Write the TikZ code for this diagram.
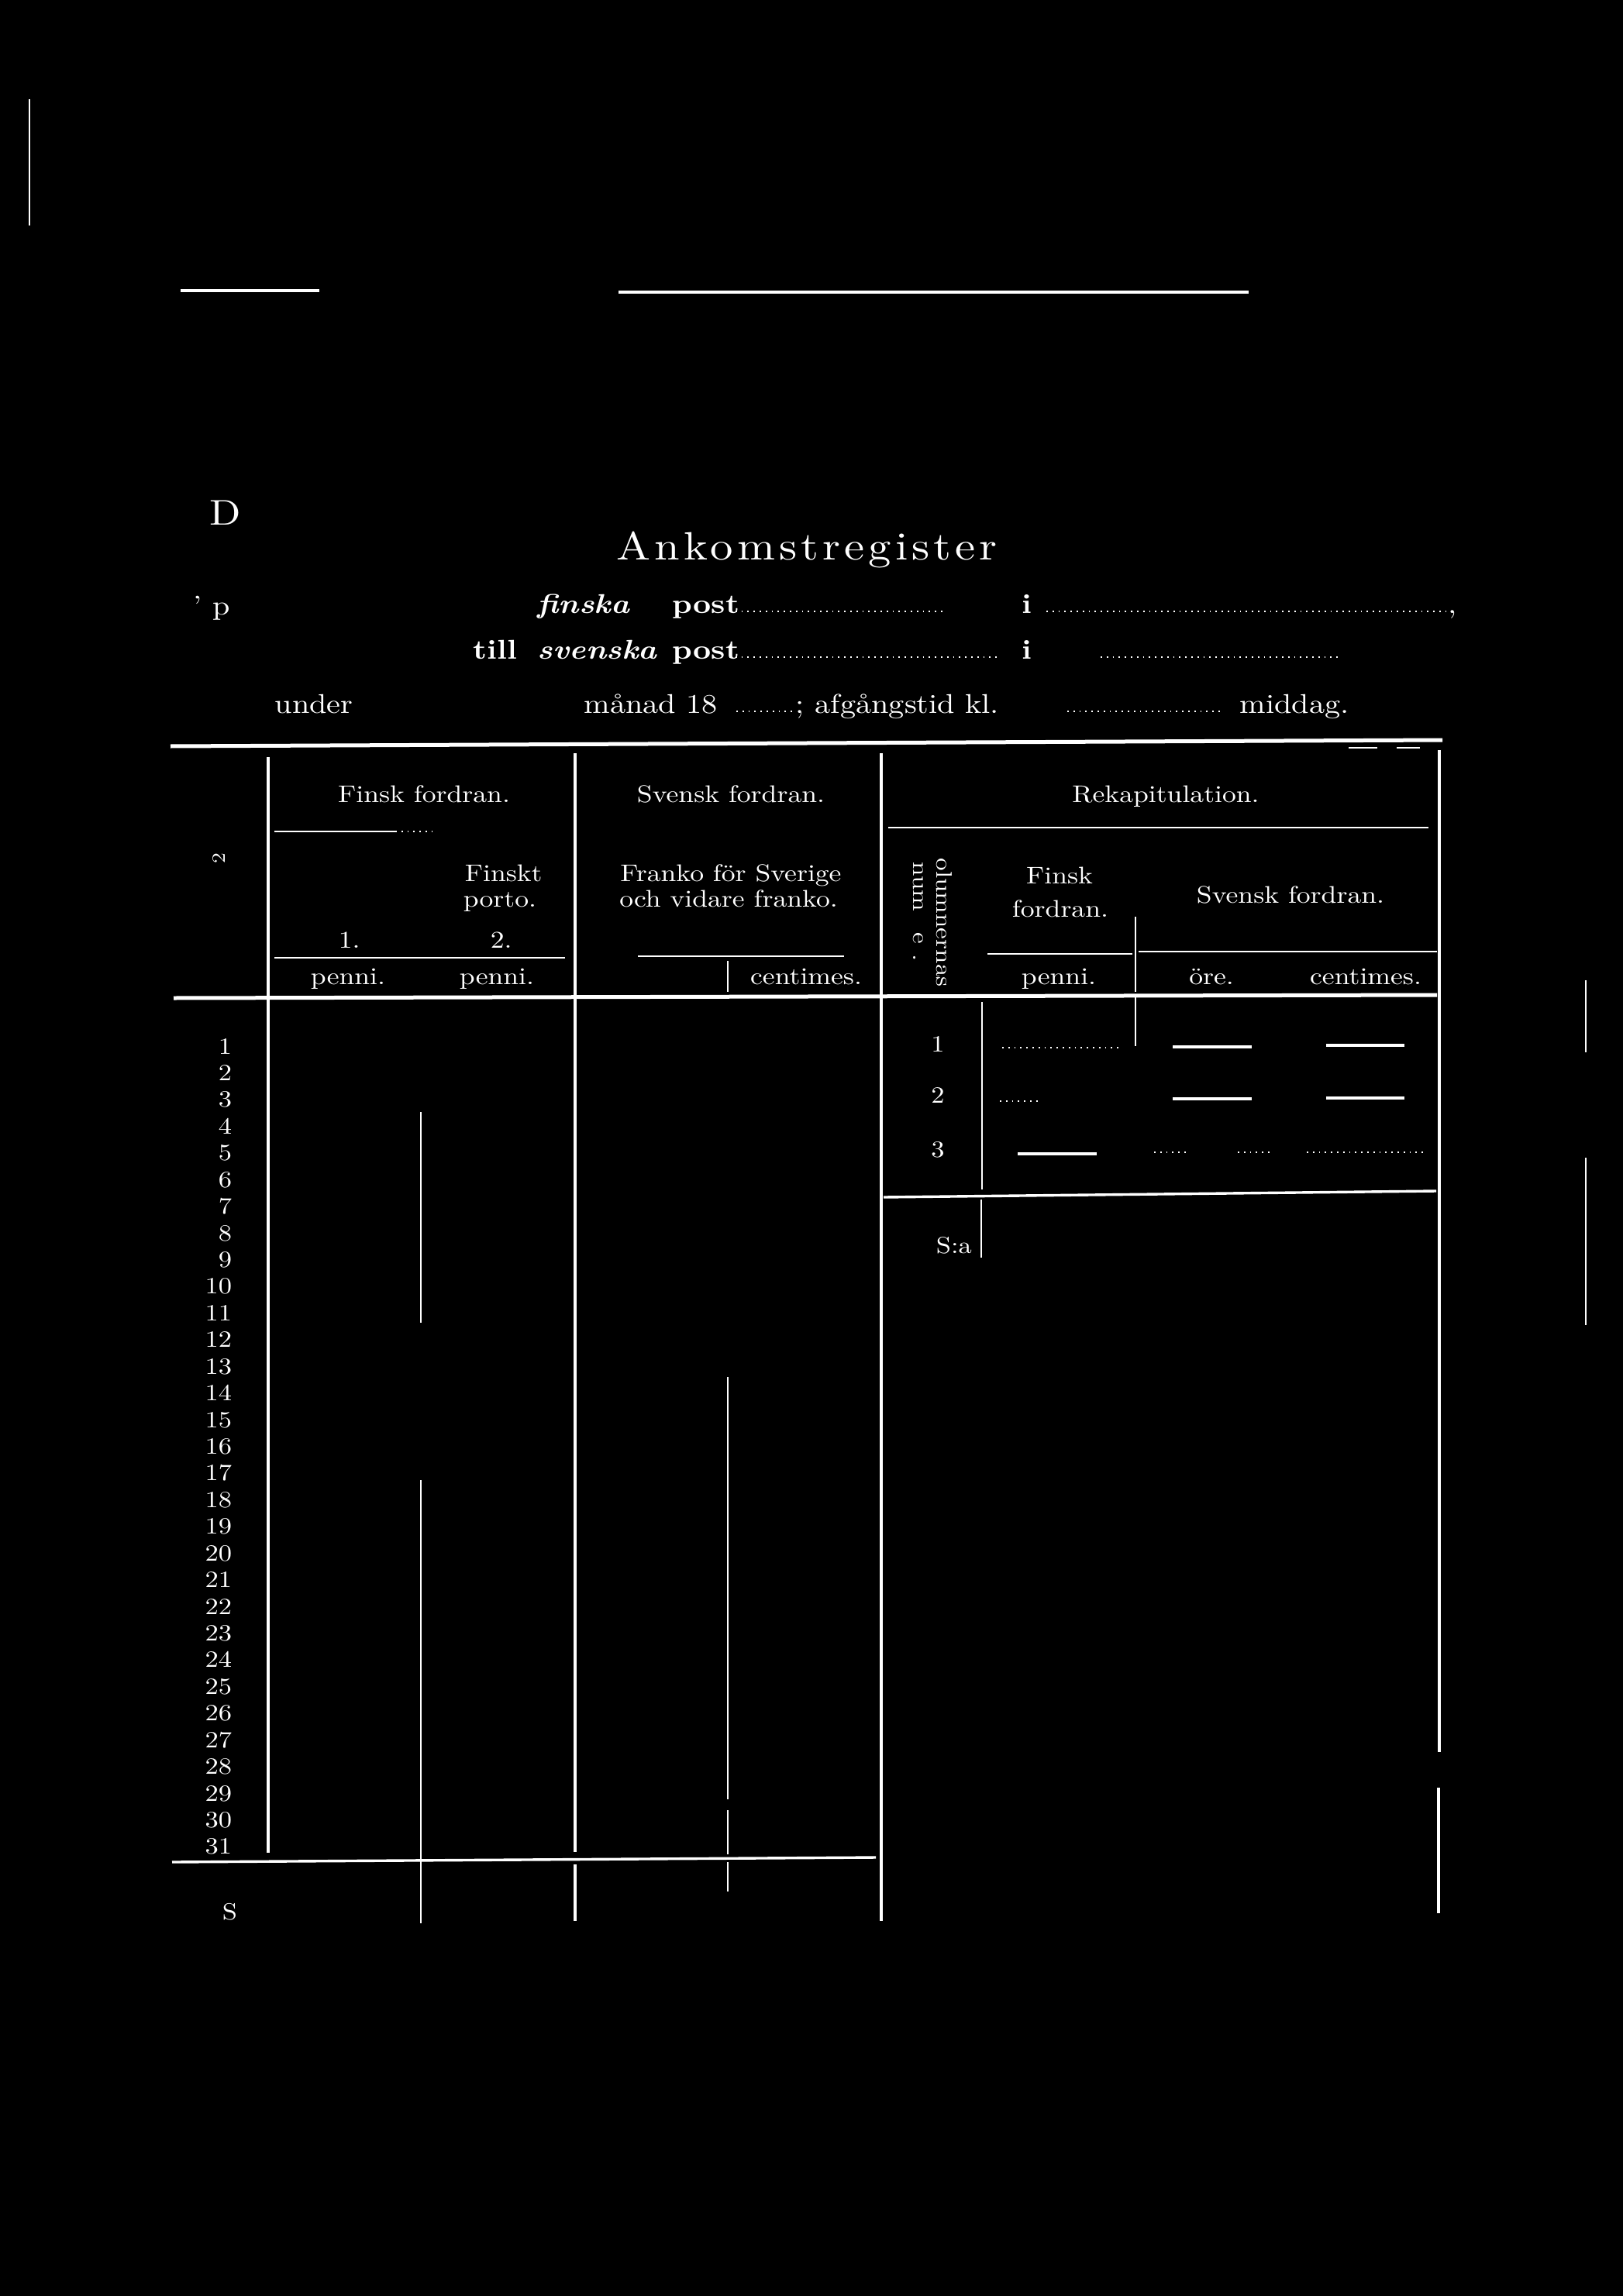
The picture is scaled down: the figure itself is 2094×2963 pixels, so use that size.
\documentclass[tikz,border=0pt]{standalone}
\usepackage{fontspec}
\setmainfont{lmroman10-regular.otf}[ItalicFont=lmroman10-italic.otf,BoldFont=lmroman10-bold.otf,BoldItalicFont=lmroman10-bolditalic.otf,FakeStretch=1.15]
\newfontfamily\titlefont{lmroman10-regular.otf}[FakeStretch=1.15,LetterSpace=10]
\newcommand\fsz[1]{\fontsize{#1}{#1}\selectfont}
\begin{document}
\begin{tikzpicture}[x=0.25pt,y=-0.25pt,
  lnA/.style={draw=white,line width=0.45pt},
  lnB/.style={draw=white,line width=0.6pt},
  lnC/.style={draw=white,line width=0.85pt},
  lnD/.style={draw=white,line width=1.25pt},
  dotrule/.style={draw=white,line width=0.55pt,dash pattern=on 0.45pt off 1.5pt},
  txt/.style={text=white,inner sep=0pt,font=\fsz{8.75pt}},
  hdr/.style={text=white,inner sep=0pt,font=\fsz{7.75pt}},
  num/.style={text=white,inner sep=0pt,font=\fsz{7.5pt}}]
\fill[black] (0,0) rectangle (2094,2963);
\useasboundingbox (0,0) rectangle (2094,2963);

% ---------- top marks ----------
\draw[lnA] (38,128) -- (38,291);
\draw[lnC] (233,375) -- (412,375);
\draw[lnC] (798,377) -- (1611,377);

% ---------- title block ----------
\node[txt,anchor=base west,font=\fsz{11.5pt}] (tD) at (270,678) {D};
\node[txt,anchor=base west,font=\titlefont\fsz{12.75pt}] (title) at (795,723) {Ankomstregister};

\node[txt,anchor=base west] (tp) at (249,793) {' p};
\node[txt,anchor=base west,font=\fsz{8.75pt}\bfseries\itshape] (fin) at (693,791) {finska};
\node[txt,anchor=base west,font=\fsz{8.75pt}\bfseries] (post1) at (867,791) {post};
\node[txt,anchor=base,font=\fsz{8.75pt}\bfseries] (i1) at (1325,791) {i};
\node[txt,anchor=base west] (comma) at (1868,791) {,};
\draw[dotrule] (941,789) -- (1219,789);
\draw[dotrule] (1350,789) -- (1865,789);

\node[txt,anchor=base west,font=\fsz{8.75pt}\bfseries] (till) at (610,850) {till};
\node[txt,anchor=base west,font=\fsz{8.75pt}\bfseries\itshape] (sve) at (693,850) {svenska};
\node[txt,anchor=base west,font=\fsz{8.75pt}\bfseries] (post2) at (867,850) {post};
\node[txt,anchor=base,font=\fsz{8.75pt}\bfseries] (i2) at (1325,850) {i};
\draw[dotrule] (941,848) -- (1290,848);
\draw[dotrule] (1420,848) -- (1729,848);

\node[txt,anchor=base west] (under) at (354,920) {under};
\node[txt,anchor=base west] (manad) at (753,920) {månad 18};
\draw[dotrule] (950,918) -- (1022,918);
\node[txt,anchor=base west] (semi) at (1026,920) {;};
\node[txt,anchor=base west] (afg) at (1051,920) {afgångstid kl.};
\draw[dotrule] (1377,918) -- (1577,918);
\node[txt,anchor=base west] (midd) at (1599,920) {middag.};

% ---------- table frame ----------
\draw[lnD] (220,963) -- (1861,955);
\draw[lnA] (1740,965) -- (1777,965);
\draw[lnA] (1802,965) -- (1832,965);

\draw[lnC] (346,977) -- (346,2391);
\draw[lnC] (742,972) -- (742,2390);
\draw[lnC] (742,2406) -- (742,2479);
\draw[lnC] (1137,972) -- (1137,2479);
\draw[lnC] (1857,968) -- (1857,2261);
\draw[lnC] (1856,2307) -- (1856,2469);
\draw[lnA] (543,1435) -- (543,1707);
\draw[lnA] (543,1910) -- (543,2482);
\draw[lnA] (939,1240) -- (939,1280);
\draw[lnA] (939,1777) -- (939,2322);
\draw[lnA] (939,2336) -- (939,2393);
\draw[lnA] (939,2403) -- (939,2441);
\draw[lnA] (1267,1293) -- (1267,1535);
\draw[lnA] (1266,1548) -- (1266,1623);
\draw[lnA] (1465,1183) -- (1465,1280);
\draw[lnA] (1465,1287) -- (1465,1350);
\draw[lnB] (2046,1265) -- (2046,1358);
\draw[lnB] (2046,1494) -- (2046,1710);

% header rules
\draw[lnA] (354,1073) -- (510,1073);
\draw[dotrule] (510,1073) -- (558,1073);
\draw[lnB] (1146,1068) -- (1843,1068);
\draw[lnB] (354,1236) -- (729,1236);
\draw[lnB] (823,1234) -- (1089,1234);
\draw[lnA] (1274,1231) -- (1461,1231);
\draw[lnB] (1469,1228) -- (1854,1228);
\draw[lnD] (224,1288) -- (1854,1284);

% ---------- header texts ----------
\node[hdr,anchor=base] (hFinsk) at (547,1035) {Finsk fordran.};
\node[hdr,anchor=base] (hSvensk) at (943,1035) {Svensk fordran.};
\node[hdr,anchor=base] (hRekap) at (1504,1035) {Rekapitulation.};
\node[hdr,anchor=base west] (hFinskt) at (599,1137) {Finskt};
\node[hdr,anchor=base west] (hPorto) at (597,1170) {porto.};
\node[hdr,anchor=base west] (hOne) at (436,1223) {1.};
\node[hdr,anchor=base west] (hTwo) at (632,1223) {2.};
\node[hdr,anchor=base] (hPen1) at (449,1270) {penni.};
\node[hdr,anchor=base] (hPen2) at (641,1270) {penni.};
\node[hdr,anchor=base] (hFranko) at (943,1137) {Franko för Sverige};
\node[hdr,anchor=base] (hOch) at (940,1170) {och vidare franko.};
\node[hdr,anchor=base] (hCent1) at (1040,1270) {centimes.};
\node[hdr,anchor=base west,rotate=-90,font=\fsz{7.2pt}] (hKol) at (1208,1107) {olumnernas};
\node[hdr,anchor=base west,rotate=-90,font=\fsz{7.2pt}] (hNum) at (1178,1112) {num\hphantom{m}e\hphantom{r}.};
\node[hdr,anchor=base] (hRF1) at (1367,1140) {Finsk};
\node[hdr,anchor=base] (hRF2) at (1368,1183) {fordran.};
\node[hdr,anchor=base] (hRS) at (1665,1165) {Svensk fordran.};
\node[hdr,anchor=base] (hPen3) at (1366,1270) {penni.};
\node[hdr,anchor=base] (hOre) at (1563,1270) {öre.};
\node[hdr,anchor=base] (hCent2) at (1762,1270) {centimes.};
\node[num,anchor=center,rotate=90,font=\fsz{6pt}] (hMark) at (283,1108) {2};

% ---------- day numbers ----------
\foreach \n in {1,...,31} {
  \node[num,anchor=base east] (d\n) at (300,{1360+(\n-1)*34.43}) {\n};
}
\draw[lnC] (222,2403) -- (1130,2397);
\node[num,anchor=base west] (sumS) at (286,2477) {S};

% ---------- recapitulation rows ----------
\node[num,anchor=base] (r1) at (1210,1357) {1};
\node[num,anchor=base] (r2) at (1210,1423) {2};
\node[num,anchor=base] (r3) at (1210,1493) {3};
\draw[dotrule] (1293,1352) -- (1443,1352);
\draw[lnC] (1513,1351) -- (1615,1351);
\draw[lnC] (1711,1349) -- (1812,1349);
\draw[dotrule] (1290,1421) -- (1340,1421);
\draw[lnC] (1513,1418) -- (1615,1418);
\draw[lnC] (1711,1417) -- (1812,1417);
\draw[lnC] (1313,1489) -- (1415,1489);
\draw[dotrule] (1489,1487) -- (1530,1487);
\draw[dotrule] (1597,1487) -- (1640,1487);
\draw[dotrule] (1686,1487) -- (1837,1487);
\draw[lnC] (1140,1545) -- (1853,1537);
\node[num,anchor=base west] (sa) at (1207,1617) {S:a};
\end{tikzpicture}
\end{document}
